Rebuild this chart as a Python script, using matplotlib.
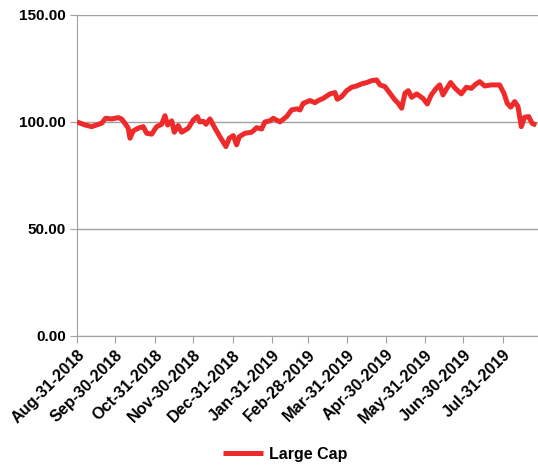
import matplotlib
matplotlib.use("Agg")
import matplotlib.pyplot as plt
import pandas as pd

start = "2018-08-31"
day_offsets = [0, 6.3, 11.5, 15.4, 19.4, 22.5, 27.2, 32.4, 35.0, 37.6, 40.2, 41.6, 44.1, 48.1, 52.0,
               54.7, 58.6, 62.5, 66.4, 69.0, 71.1, 74.3, 76.3, 79.4, 82.1, 87.3, 91.2,
               94.3, 96.4, 99.0, 101.2, 104.3, 108.2, 112.1, 116.8, 119.4, 122.6, 125.2, 127.3,
               131.7, 137.0, 140.9, 144.8, 147.4, 151.3, 153.9, 159.2, 164.4, 168.3, 172.3,
               174.9, 177.4, 178.8, 182.7, 186.6, 189.2, 193.1, 198.4, 202.3, 204.1, 207.5, 211.5,
               215.4, 219.3, 223.2, 227.2, 231.1, 235.0, 237.6, 241.5, 245.4, 249.3, 251.9, 254.6,
               257.2, 259.8, 262.4, 266.4,
               271.3, 274.7, 277.8, 281.7, 284.4, 287.0, 289.6, 293.0, 296.6, 301.3, 305.3, 309.2,
               313.1, 315.8, 319.7, 324.9, 331.4, 334.8, 337.4, 340.1, 343.2, 345.8, 348.4, 351.0,
               354.2, 356.8, 360.1]
large_cap = [100.0, 98.6, 97.8, 98.6, 99.4, 101.7, 101.4, 102.0, 101.4, 99.4, 97.1, 92.4, 95.8, 97.1, 97.8,
             94.7, 94.3, 97.8, 98.9, 102.9, 98.6, 100.5, 95.2, 98.3, 95.2, 97.1, 100.9,
             102.5, 100.0, 100.3, 98.9, 101.4, 97.1, 93.1, 88.5, 92.4, 93.6, 89.3, 93.1,
             94.7, 95.2, 97.3, 96.7, 100.0, 100.5, 101.7, 100.0, 102.5, 105.6, 106.1,
             105.6, 108.7, 109.0, 110.0, 109.0, 110.0, 111.0, 113.1, 113.7, 110.6, 111.8, 114.6,
             116.2, 116.8, 117.8, 118.4, 119.3, 119.6, 117.3, 116.5, 113.4, 110.3, 108.7, 106.4,
             113.4, 114.6, 111.5, 113.1,
             111.0, 108.4, 112.6, 115.7, 117.3, 112.6, 115.3, 118.4, 115.7, 113.1, 116.2, 115.7,
             117.8, 118.8, 116.8, 117.3, 117.3, 113.4, 108.7, 106.9, 109.5, 107.2, 97.8, 102.2,
             102.5, 99.4, 98.5]
tick_dates = ["2018-08-31", "2018-09-30", "2018-10-31", "2018-11-30", "2018-12-31", "2019-01-31",
              "2019-02-28", "2019-03-31", "2019-04-30", "2019-05-31", "2019-06-30", "2019-07-31"]
y_ticks = [0, 50, 100, 150]
series_name = "Large Cap"

dates = pd.Timestamp(start) + pd.to_timedelta(day_offsets, unit="D")
ticks = pd.to_datetime(tick_dates)

fig = plt.figure(figsize=(5.38, 4.66), dpi=100)
ax = fig.add_axes([0.143, 0.279, 0.857, 0.689])

ax.plot(dates, large_cap, color="#EE2A2A", linewidth=3.6, solid_joinstyle="round",
        solid_capstyle="butt", label=series_name, zorder=3)

ax.set_ylim(0, 150)
ax.set_yticks(y_ticks)
ax.set_yticklabels([f"{v:.2f}" for v in y_ticks], fontsize=11, fontweight="bold",
                   family="Liberation Sans")
ax.set_xlim(pd.Timestamp(start), pd.Timestamp(start) + pd.Timedelta(days=361.5))
ax.set_xticks(ticks)
ax.set_xticklabels([d.strftime("%b-%d-%Y") for d in ticks], rotation=45, ha="right",
                   rotation_mode="anchor", fontsize=11.7, fontweight="bold", family="Liberation Sans")

ax.grid(axis="y", color="#A0A0A0", linewidth=1.0)
ax.set_axisbelow(True)
for s in ["top", "right"]:
    ax.spines[s].set_visible(False)
ax.spines["left"].set_color("#A0A0A0")
ax.spines["bottom"].set_color("#A0A0A0")
ax.tick_params(axis="x", direction="out", length=5, color="#A0A0A0", pad=3)
ax.tick_params(axis="y", direction="out", length=5, color="#A0A0A0", pad=3)

fig.legend(loc="center", bbox_to_anchor=(0.53, 0.025), frameon=False,
           prop={"family": "Liberation Sans", "weight": "bold", "size": 11.5},
           handlelength=2.5, handletextpad=0.4)

fig.savefig("out.png", dpi=100)
